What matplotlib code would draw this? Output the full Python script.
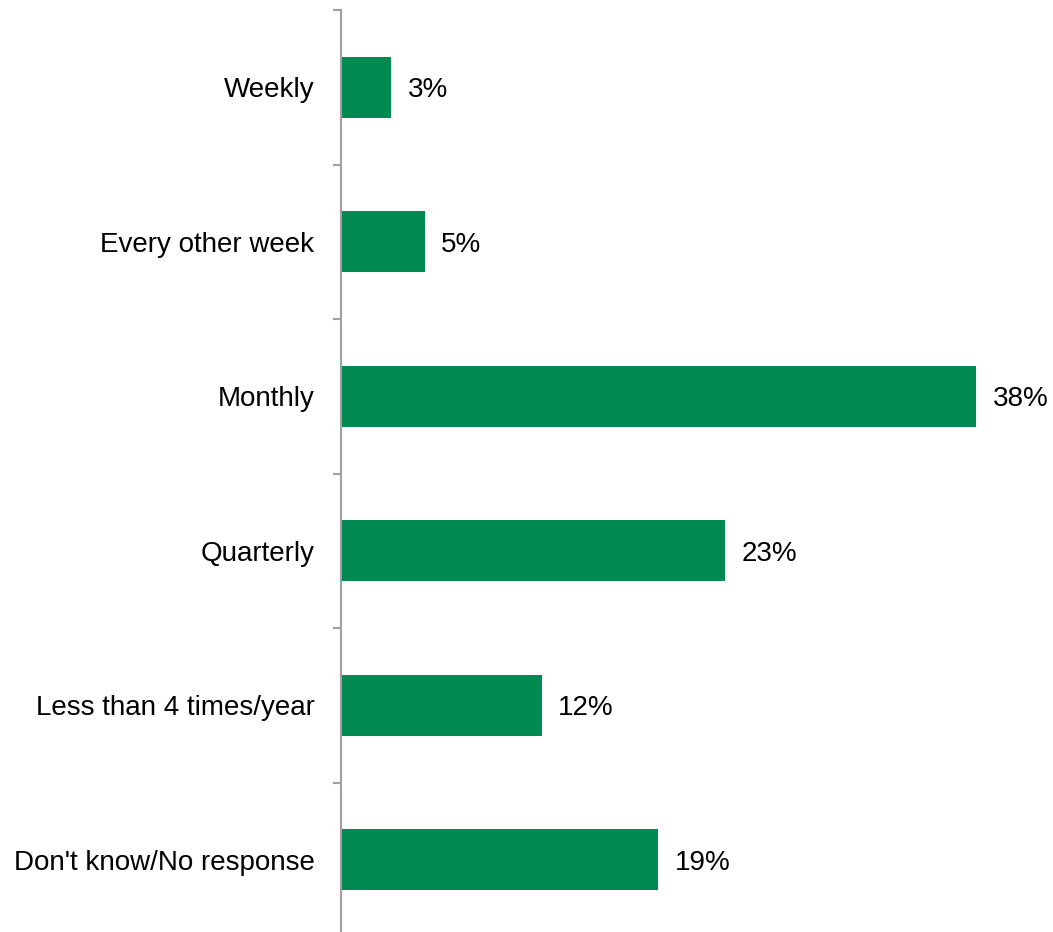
import matplotlib.pyplot as plt

categories = ['Weekly', 'Every other week', 'Monthly', 'Quarterly',
              'Less than 4 times/year', "Don't know/No response"]
values = [3, 5, 38, 23, 12, 19]

plt.rcParams['font.family'] = ['Liberation Sans', 'DejaVu Sans']

fig = plt.figure(figsize=(10.53, 9.32), dpi=100)
ax = fig.add_axes([341 / 1053, -5 / 932, 712 / 1053, 927 / 932])

pos = list(range(len(categories)))
ax.barh(pos, values, height=0.395, color='#008A52')
ax.set_ylim(len(categories) - 0.5, -0.5)
ax.set_xlim(0, 712 / 16.71)

for y, v in zip(pos, values):
    ax.text(v + 1.0, y + 0.02, f'{v}%', va='center', ha='left', fontsize=20)

ax.set_yticks([p - 0.5 for p in pos] + [len(pos) - 0.5])
ax.set_yticklabels([])
ax.set_yticks(pos, minor=True)
ax.set_yticklabels(categories, minor=True, fontsize=20)
ax.tick_params(axis='y', which='major', length=6, width=1.5, color='#A0A0A0', direction='out')
ax.tick_params(axis='y', which='minor', length=0, pad=19)
ax.set_xticks([])

for s in ['top', 'right', 'bottom']:
    ax.spines[s].set_visible(False)
ax.spines['left'].set_color('#A0A0A0')
ax.spines['left'].set_linewidth(1.5)

fig.savefig('out.png', dpi=100)
